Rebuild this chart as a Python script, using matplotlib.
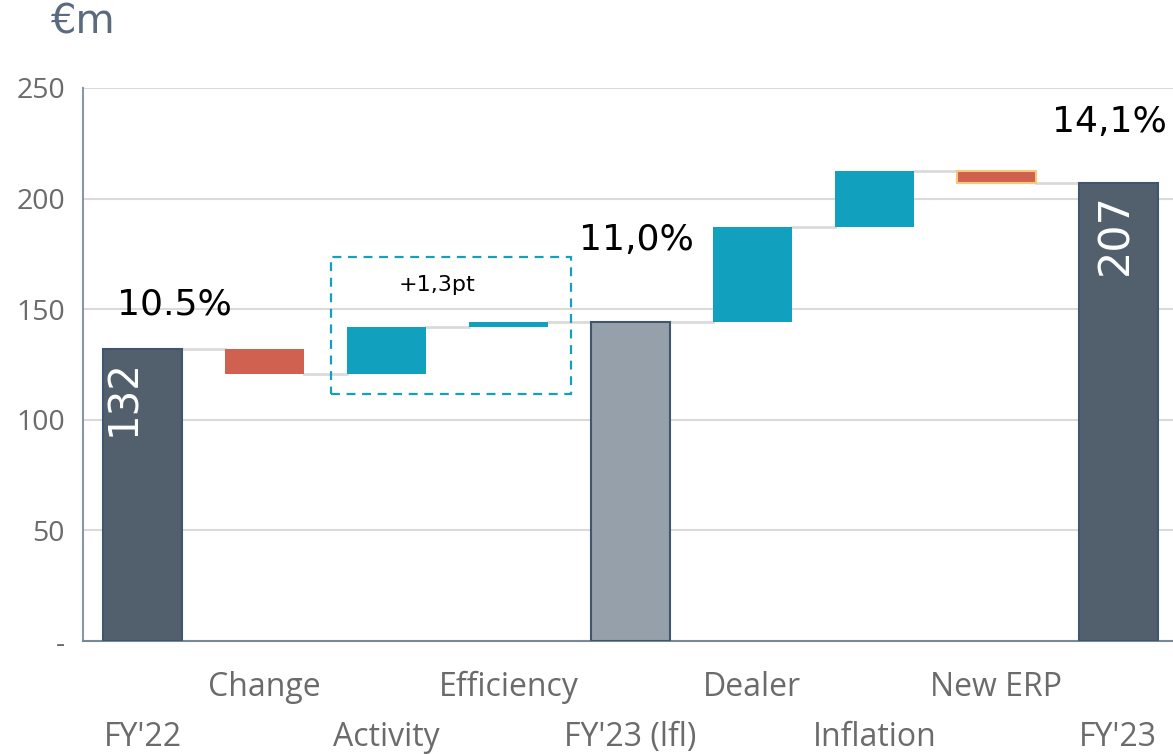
import matplotlib
matplotlib.use("Agg")
import matplotlib.pyplot as plt
import matplotlib.transforms as mtransforms
from matplotlib.patches import Rectangle

categories = ["FY'22", "Change", "Activity", "Efficiency", "FY'23 (lfl)",
              "Dealer", "Inflation", "New ERP", "FY'23"]
start_total = 132
deltas_a = [-11.5, 21.5, 2.0]       # Change, Activity, Efficiency
deltas_b = [43.0, 25.5, -5.5]       # Dealer, Inflation, New ERP
margin_labels = ["10.5%", "11,0%", "14,1%"]
box_label = "+1,3pt"
y_ticks = [0, 50, 100, 150, 200, 250]
y_ticklabels = ["-", "50", "100", "150", "200", "250"]

DARK = "#525f6d"
LFL = "#95a0aa"
TEAL = "#11a0bd"
RED = "#d06050"
GRID = "#dadada"
TICK = "#6b6b6b"
LABEL_FONT = "Open Sans"

fig = plt.figure(figsize=(11.73, 7.54), dpi=100)
ax = fig.add_axes([83 / 1173, 1 - 641 / 754, 1 - 83 / 1173, (641 - 88) / 754])
ax.set_xlim(-0.49, 8.45)
ax.set_ylim(0, 250)

ax.set_yticks(y_ticks)
ax.set_yticklabels(y_ticklabels, fontsize=20.5, color=TICK, family=LABEL_FONT)
ax.tick_params(axis="y", length=0, pad=13)
ax.tick_params(axis="x", length=0, labelbottom=False)
for v in y_ticks[1:]:
    ax.axhline(v, color=GRID, lw=1.5, zorder=0)
for s in ["top", "right"]:
    ax.spines[s].set_visible(False)
ax.spines["left"].set_color("#8a96a3")
ax.spines["left"].set_linewidth(1.5)
ax.spines["bottom"].set_color("#7a8794")
ax.spines["bottom"].set_linewidth(1.5)

W = 0.65
# waterfall: totals, then steps
levels = []
bars = []  # (x, bottom, height, color, edge)
x = 0
bars.append((x, 0, start_total, DARK, "#3f5570"))
level = start_total
levels.append(level)
for d in deltas_a:
    x += 1
    bars.append((x, min(level, level + d), abs(d), TEAL if d > 0 else RED, "none"))
    level += d
    levels.append(level)
x += 1
bars.append((x, 0, level, LFL, "#3f5570"))
levels.append(level)
for d in deltas_b:
    x += 1
    edge = "#f5c97a" if d < 0 else "none"
    bars.append((x, min(level, level + d), abs(d), TEAL if d > 0 else RED, edge))
    level += d
    levels.append(level)
x += 1
bars.append((x, 0, level, DARK, "#3f5570"))

for (bx, b, h, c, e) in bars:
    ax.bar(bx, h, bottom=b, width=W, color=c, edgecolor=e,
           linewidth=1.5 if e != "none" else 0, zorder=3)

# connectors
for i, lv in enumerate(levels):
    ax.plot([i + W / 2, i + 1 - W / 2], [lv, lv], color=GRID, lw=2, zorder=2)

# values inside total bars
ax.text(-0.15, start_total - 4.5, f"{start_total:.0f}", rotation=90, color="white",
        fontsize=29, ha="center", va="top", zorder=4)
ax.text(7.98, level - 4.5, f"{level:.0f}", rotation=90, color="white",
        fontsize=31, ha="center", va="top", zorder=4)

# margin labels
ax.text(0.26, 152, margin_labels[0], fontsize=26, ha="center", va="center", color="black")
ax.text(4.05, 181.5, margin_labels[1], fontsize=26, ha="center", va="center", color="black")
ax.text(7.93, 234.5, margin_labels[2], fontsize=26, ha="center", va="center", color="black")

# dashed box around Activity + Efficiency
ax.add_patch(Rectangle((1.54, 111.7), 1.97, 61.9, fill=False, edgecolor=TEAL,
                       linestyle=(0, (4, 3)), lw=1.6, zorder=5))
ax.text(2.41, 161, box_label, fontsize=16, ha="center", va="center", color="black")

# staggered category labels
trans = mtransforms.blended_transform_factory(ax.transData, ax.transAxes)
for i, lab in enumerate(categories):
    yy = -0.175 if i % 2 == 0 else -0.084
    ax.text(i, yy, lab, transform=trans, ha="center", va="center",
            fontsize=23, color=TICK, family=LABEL_FONT)

fig.text(50 / 1173, 1 - 23 / 754, "€m", fontsize=29, color="#5a6b80",
         ha="left", va="center")

fig.savefig("out.png", dpi=100)
